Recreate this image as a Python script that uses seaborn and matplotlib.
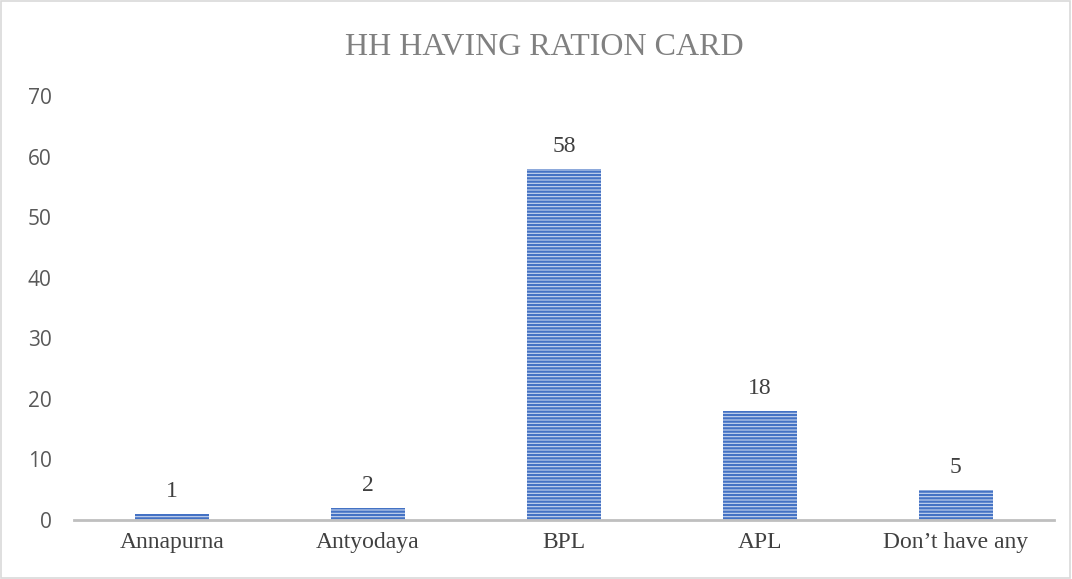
import matplotlib
matplotlib.use("Agg")
import matplotlib.pyplot as plt
import seaborn as sns
import pandas as pd
from matplotlib.patches import Rectangle

# Data
categories = ["Annapurna", "Antyodaya", "BPL", "APL", "Don\u2019t have any"]
households = [1, 2, 58, 18, 5]
y_ticks = [0, 10, 20, 30, 40, 50, 60, 70]

df = pd.DataFrame({"Card": categories, "HH": households})

sns.set_style("white")
plt.rcParams["hatch.linewidth"] = 1.6

fig = plt.figure(figsize=(10.72, 5.79), dpi=100)
ax = fig.add_axes([0.069, 0.102, 0.914, 0.732])

sns.barplot(data=df, x="Card", y="HH", ax=ax, width=0.38,
            color="#c9d6ef", saturation=1)
for bar in ax.patches:
    bar.set_hatch("-----")
    bar.set_edgecolor("#4472C4")
    bar.set_linewidth(0)

# value labels
for i, v in enumerate(households):
    ax.text(i, v + 2.0, str(v), ha="center", va="bottom",
            fontsize=17, family="Liberation Serif", color="#404040")

ax.set_xlim(-0.5, 4.5)
ax.set_ylim(0, 70)
ax.set_yticks(y_ticks)
ax.set_yticklabels([str(t) for t in y_ticks], fontsize=15,
                   family="Open Sans", color="#595959")
ax.set_xticks(range(len(categories)))
ax.set_xticklabels(categories, fontsize=17, family="Liberation Serif",
                   color="#404040")
ax.tick_params(axis="y", length=0, pad=16)
ax.tick_params(axis="x", length=0, pad=9)
ax.set_xlabel("")
ax.set_ylabel("")
for s in ["top", "right", "left"]:
    ax.spines[s].set_visible(False)
ax.spines["bottom"].set_color("#bfbfbf")
ax.spines["bottom"].set_linewidth(2)

fig.text(0.508, 0.918, "HH HAVING RATION CARD", ha="center", va="center",
         fontsize=23, family="Liberation Serif", color="#808080")

# chart border
fig.patches.append(Rectangle((0.001, 0.001), 0.997, 0.997,
                             transform=fig.transFigure, fill=False,
                             edgecolor="#d9d9d9", linewidth=1.2))

fig.savefig("out.png", dpi=100)
